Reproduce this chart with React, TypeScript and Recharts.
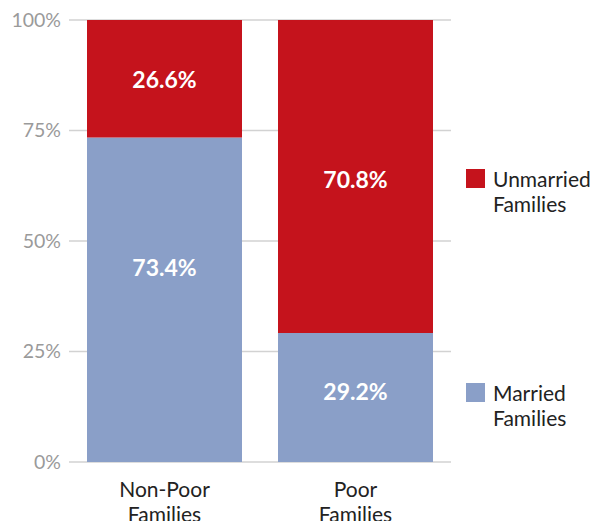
import { BarChart, Bar, XAxis, YAxis, CartesianGrid, LabelList } from 'recharts';

const categories = ['Non-Poor Families', 'Poor Families'];
const married = [73.4, 29.2];
const unmarried = [26.6, 70.8];
const yTicks = [0, 25, 50, 75, 100];

const RED = '#c5131c';
const BLUE = '#8a9fc8';
const FONT = 'Lato, "Open Sans", sans-serif';

const data = categories.map((name, i) => ({ name, married: married[i], unmarried: unmarried[i] }));

// nudges so the in-bar labels sit where the original puts them
const marriedShift = [-33, -6];
const unmarriedShift = [0, 3];

function makeLabel(shift: number[]) {
    return (props: any) => {
        const { x, y, width, height, value, index } = props;
        return (
            <text
                x={x + width / 2}
                y={y + height / 2 + (shift[index] || 0)}
                textAnchor="middle"
                dominantBaseline="central"
                fill="#fff"
                fontFamily={FONT}
                fontWeight={700}
                fontSize={23}
            >
                {`${value}%`}
            </text>
        );
    };
}

function CategoryTick(props: any) {
    const { x, y, payload } = props;
    const words = String(payload.value).split(' ');
    return (
        <text x={x} y={y} textAnchor="middle" fill="#222" fontFamily={FONT} fontSize={21}>
            <tspan x={x} dy={27}>{words[0]}</tspan>
            <tspan x={x} dy={25}>{words.slice(1).join(' ')}</tspan>
        </text>
    );
}

function LegendItem({ color, lines, top }: { color: string; lines: string[]; top: number }) {
    return (
        <div style={{ position: 'absolute', left: 466, top, display: 'flex', alignItems: 'flex-start' }}>
            <div style={{ width: 19, height: 19, background: color, marginRight: 8 }} />
            <div style={{ fontFamily: FONT, fontSize: 21, lineHeight: '25px', color: '#222', marginTop: -3 }}>
                {lines.map((l) => (
                    <div key={l}>{l}</div>
                ))}
            </div>
        </div>
    );
}

export default function App() {
    return (
        <div style={{ position: 'absolute', left: 0, top: 0, width: 597, height: 521, background: '#fff', overflow: 'hidden' }}>
            <BarChart
                width={597}
                height={521}
                data={data}
                margin={{ top: 20, right: 146, left: 0, bottom: 29 }}
                barSize={155}
            >
                <CartesianGrid vertical={false} stroke="#d2d2d2" strokeWidth={1.5} />
                <XAxis
                    dataKey="name"
                    height={30}
                    axisLine={false}
                    tickLine={false}
                    tick={<CategoryTick />}
                    interval={0}
                />
                <YAxis
                    width={69}
                    domain={[0, 100]}
                    ticks={yTicks}
                    axisLine={false}
                    tickLine={false}
                    tickFormatter={(v) => `${v}%`}
                    tick={{ fill: '#9a9a9a', fontSize: 19.5, fontFamily: FONT }}
                />
                <Bar dataKey="married" stackId="a" fill={BLUE} isAnimationActive={false}>
                    <LabelList dataKey="married" content={makeLabel(marriedShift)} />
                </Bar>
                <Bar dataKey="unmarried" stackId="a" fill={RED} isAnimationActive={false}>
                    <LabelList dataKey="unmarried" content={makeLabel(unmarriedShift)} />
                </Bar>
            </BarChart>
            <LegendItem color={RED} lines={['Unmarried', 'Families']} top={169} />
            <LegendItem color={BLUE} lines={['Married', 'Families']} top={383} />
        </div>
    );
}
